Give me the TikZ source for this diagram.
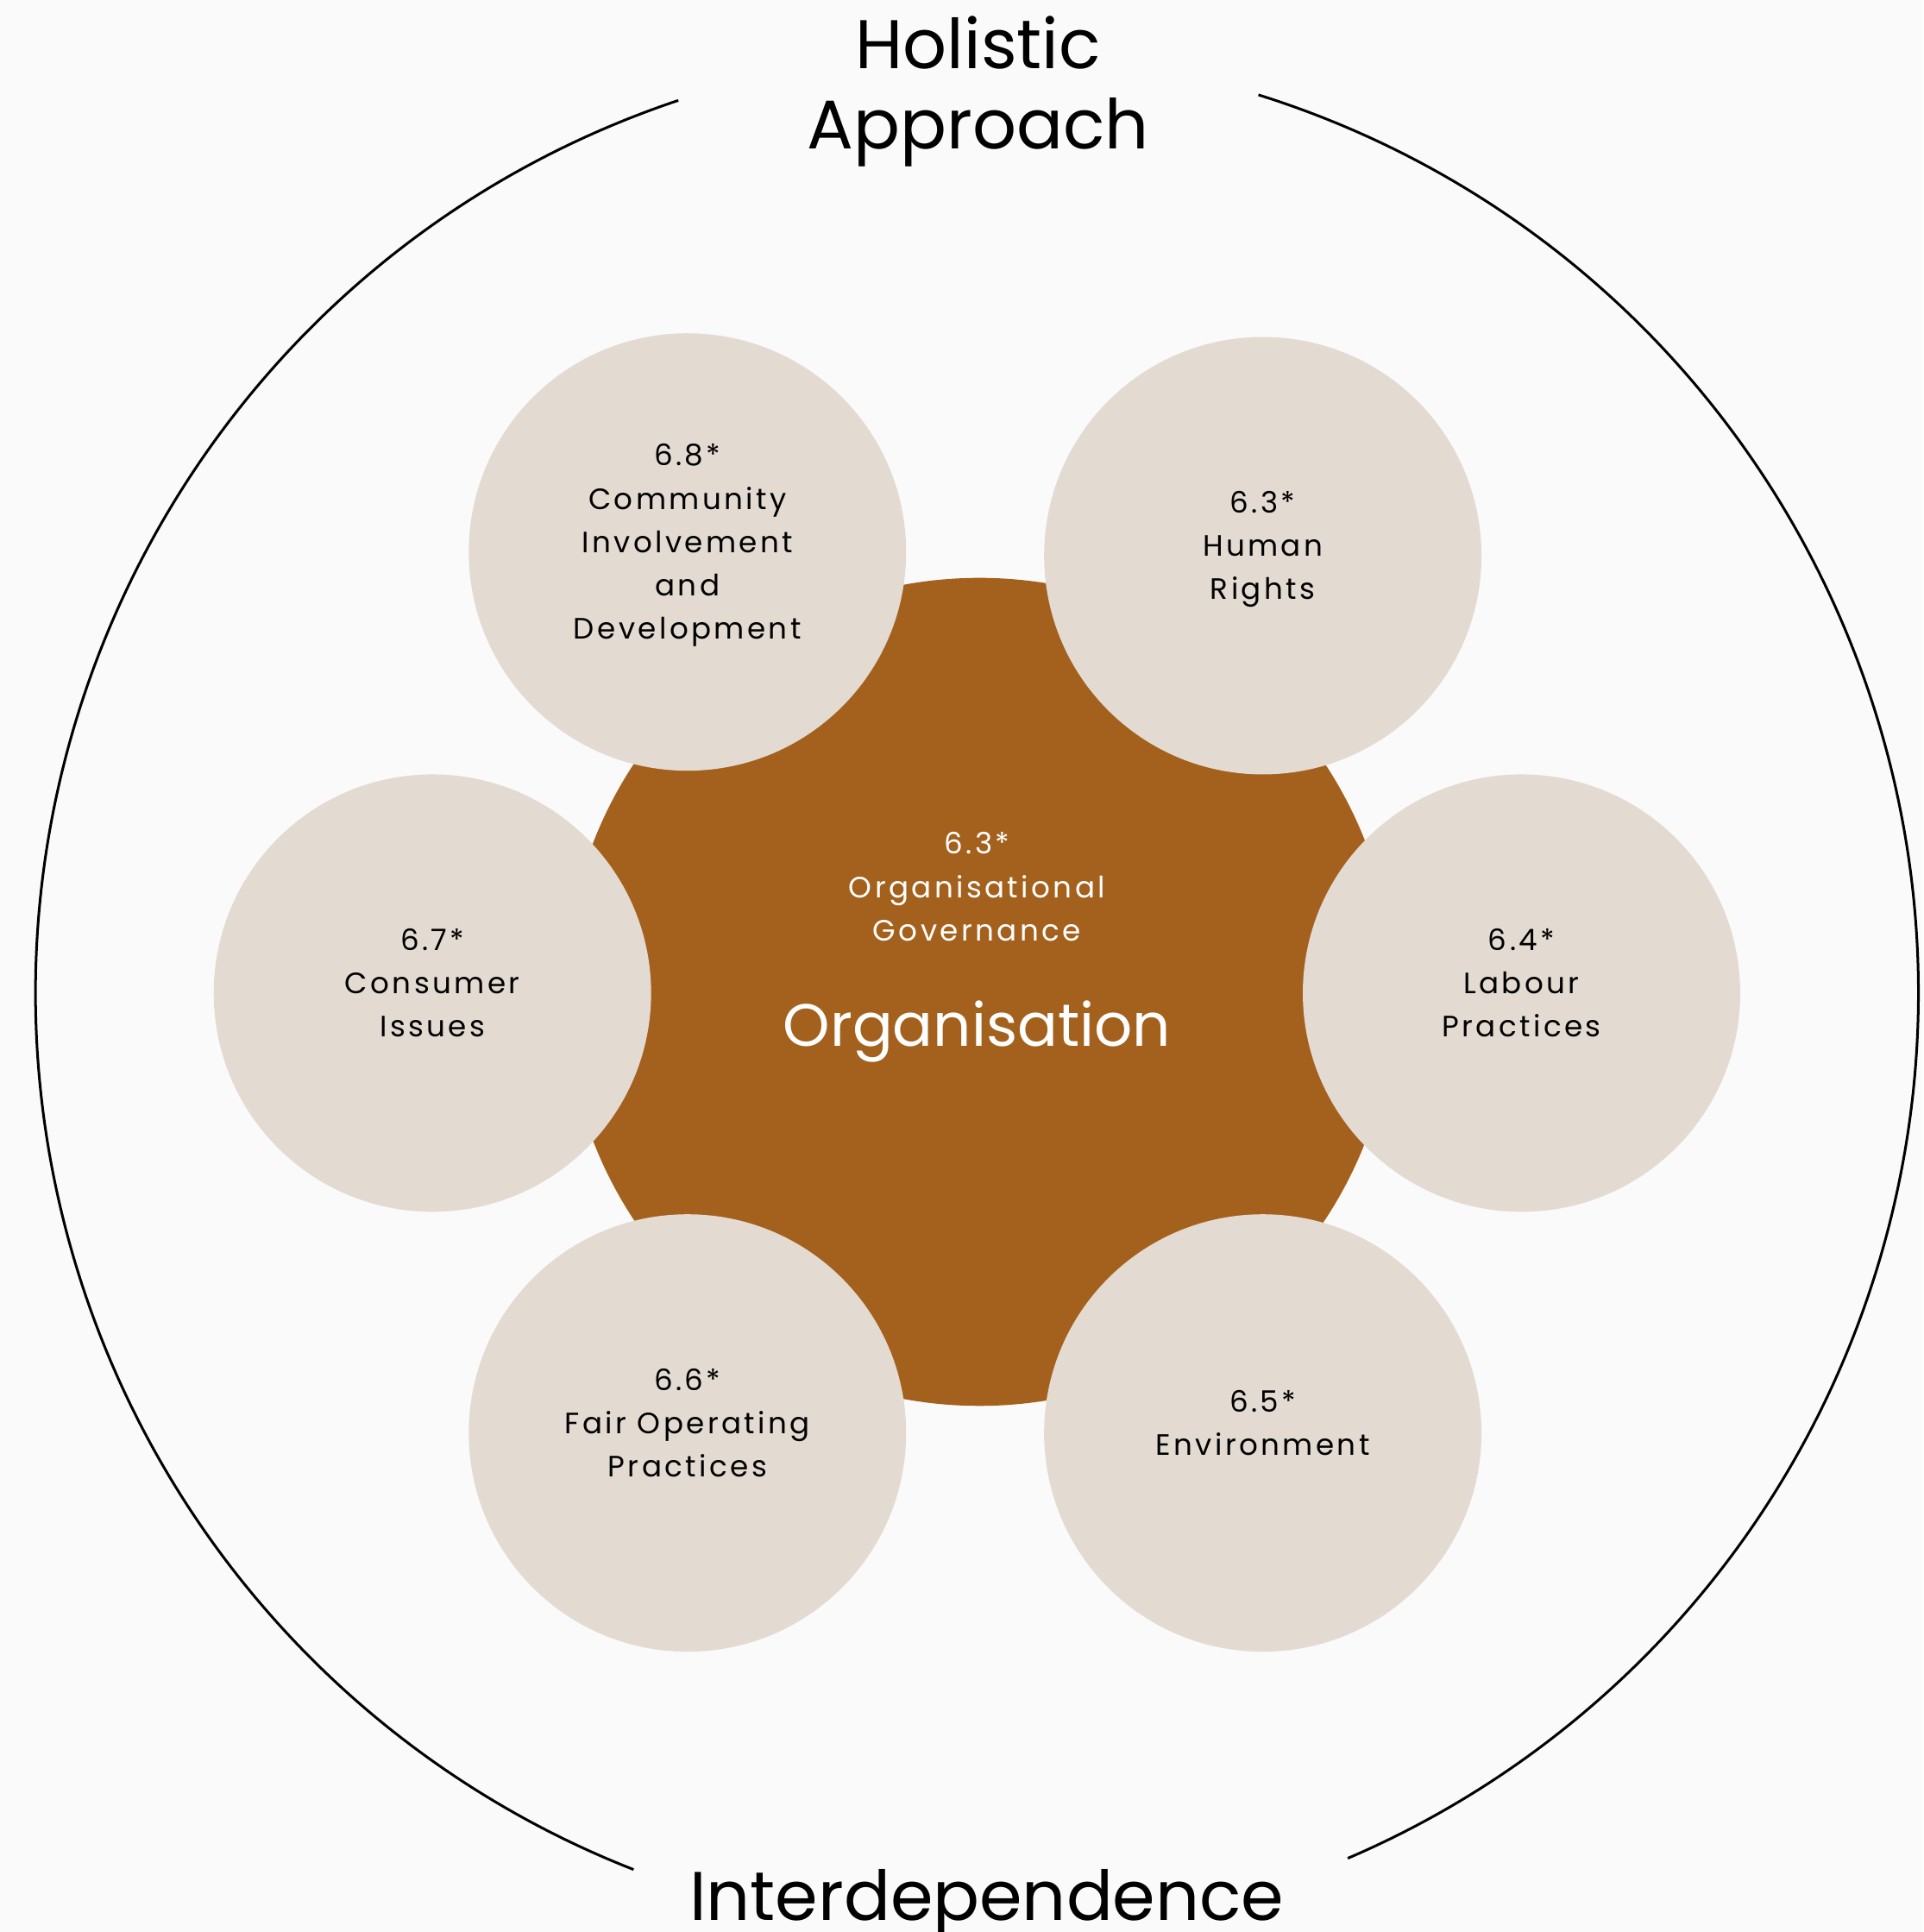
\documentclass[tikz,border=0pt]{standalone}
\usepackage{fontspec}
\setmainfont{Poppins}
\usepackage{tikz}
\definecolor{mybg}{RGB}{250,250,250}
\definecolor{mybrown}{RGB}{164,97,29}
\definecolor{mybeige}{RGB}{227,219,210}
\newcommand\mytopic[2]{%
\fontsize{6.8}{10}\selectfont\addfontfeature{LetterSpace=10}%
\raisebox{1.9pt}[\height][\depth]{\begin{tabular}{@{}c@{}}
#1 \\ #2
\end{tabular}}%
}

\begin{document}
\begin{tikzpicture}[
    topic/.style={circle,fill=mybeige,minimum size=3.55cm,inner sep=0pt},
    ring/.style={black,line width=0.6pt},
    title/.style={font=\fontsize{15.9}{18.5}\selectfont,align=center}]
    \useasboundingbox (-7.93,-7.62) rectangle (7.68,8.06);
    \fill[mybg] (-7.93,-7.62) rectangle (7.68,8.06);

    % organizacja w srodku
    \node[circle,fill=mybrown,minimum size=6.72cm] (org) at (0.02,0.01) {};
    \node[text=white] (gov) at (0,0.78) 
      {\mytopic{6.3*}{Organisational\\Governance}};
    \node[text=white,font=\fontsize{13.8}{17}\selectfont] (orgname) 
      at (0,-0.31) {Organisation};

    % tematy dookola
    \node[topic] (comm) at (-2.35,3.58) 
      {\mytopic{6.8*}{Community\\Involvement\\and\\Development}};
    \node[topic] (rights) at (2.32,3.55) 
      {\mytopic{6.3*}{Human\\Rights}};
    \node[topic] (labour) at (4.42,0) 
      {\mytopic{6.4*}{Labour\\Practices}};
    \node[topic] (env) at (2.32,-3.57) 
      {\mytopic{6.5*}{Environment}};
    \node[topic] (fair) at (-2.35,-3.57) 
      {\mytopic{6.6*}{Fair Operating\\Practices}};
    \node[topic] (consumer) at (-4.42,0) 
      {\mytopic{6.7*}{Consumer\\Issues}};

    % zewnetrzne luki
    \draw[ring] (72.6:7.64) arc[start angle=72.6,end angle=-66.8,radius=7.64];
    \draw[ring] (108.5:7.64) arc[start angle=108.5,end angle=248.6,radius=7.64];

    \node[title] (holistic) at (0.01,7.32) {Holistic\\Approach};
    \node[title] (interdep) at (0.08,-7.39) {Interdependence};
\end{tikzpicture}
\end{document}
